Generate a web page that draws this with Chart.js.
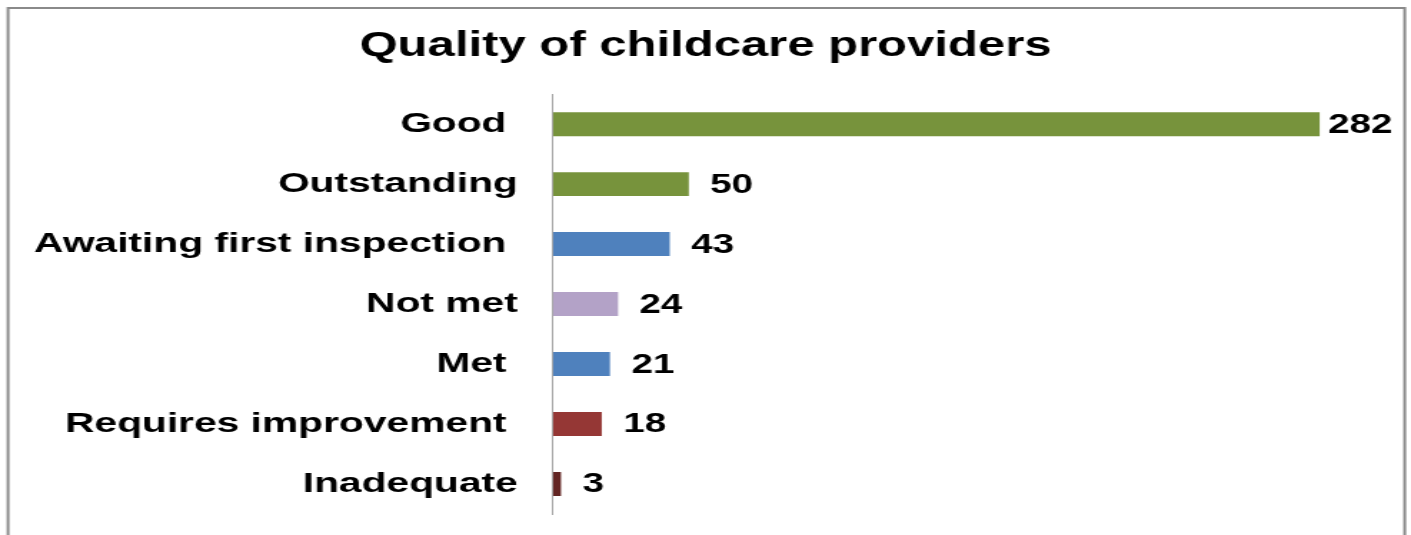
<!DOCTYPE html>
<html>
<head>
<meta charset="utf-8">
<script src="https://cdn.jsdelivr.net/npm/chart.js@4/dist/chart.umd.min.js"></script>
<style>
  html, body { margin: 0; padding: 0; background: #fff; overflow: hidden; }
  #c { display: block; }
</style>
</head>
<body>
<!-- Drawn narrower and widened by CSS, giving the wide lettering of the printed figure -->
<canvas id="c" width="987" height="535" style="width:1411px;height:535px"></canvas>
<script>
// Data
const chartTitle = 'Quality of childcare providers';
const categories = ['Good ', 'Outstanding', 'Awaiting first inspection ', 'Not met', 'Met ', 'Requires improvement ', 'Inadequate'];
const providerCounts = [282, 50, 43, 24, 21, 18, 3];
const barColours = ['#77933C', '#77933C', '#4F81BD', '#B3A2C7', '#4F81BD', '#953735', '#632523'];

const FONT = '"Liberation Sans", Arial, Helvetica, sans-serif';
const AXIS_X = 386.7;      // left edge of the plot area, in canvas units
const LABEL_LIMIT = 974;   // value labels never run past this x

// White background and the grey frame round the figure
const framePlugin = {
  id: 'frame',
  beforeDraw(chart) {
    const ctx = chart.ctx;
    ctx.save();
    ctx.fillStyle = '#ffffff';
    ctx.fillRect(0, 0, chart.width, chart.height);
    ctx.strokeStyle = '#8a8a8a';
    ctx.lineWidth = 2;
    ctx.strokeRect(5.6, 8, 982.6 - 5.6, chart.height + 20);
    ctx.restore();
  }
};

// Value labels just beyond the end of each bar
const valueLabelPlugin = {
  id: 'valueLabels',
  afterDatasetsDraw(chart) {
    const ctx = chart.ctx;
    const meta = chart.getDatasetMeta(0);
    ctx.save();
    ctx.font = 'bold 27px ' + FONT;
    ctx.fillStyle = '#000000';
    ctx.textAlign = 'left';
    ctx.textBaseline = 'middle';
    meta.data.forEach((bar, i) => {
      const text = String(providerCounts[i]);
      const w = ctx.measureText(text).width;
      let x = bar.x + 15;
      if (x + w > LABEL_LIMIT) x = LABEL_LIMIT - w;
      ctx.fillText(text, x, bar.y + 1);
    });
    ctx.restore();
  }
};

new Chart(document.getElementById('c'), {
  type: 'bar',
  data: {
    labels: categories,
    datasets: [{
      data: providerCounts,
      backgroundColor: barColours,
      borderWidth: 0,
      categoryPercentage: 1.0,
      barPercentage: 0.4
    }]
  },
  options: {
    indexAxis: 'y',
    responsive: false,
    animation: false,
    devicePixelRatio: 1,
    layout: { padding: { top: 0, bottom: 21, left: 0, right: 0 } },
    plugins: {
      legend: { display: false },
      tooltip: { enabled: false },
      title: {
        display: true,
        text: chartTitle,
        color: '#000000',
        font: { family: FONT, size: 34.3, weight: 'bold', lineHeight: 1.2 },
        padding: { top: 26, bottom: 27 }
      }
    },
    scales: {
      x: {
        min: 0,
        max: 315.6,
        display: false
      },
      y: {
        grid: { display: false, drawTicks: false },
        border: { display: true, color: '#a6a6a6', width: 1 },
        ticks: {
          color: '#000000',
          padding: 24.5,
          font: { family: FONT, size: 28.5, weight: 'bold' }
        },
        afterFit(scale) {
          scale.width = AXIS_X;
          scale.paddingTop = 0;
          scale.paddingBottom = 0;
        }
      }
    }
  },
  plugins: [framePlugin, valueLabelPlugin]
});
</script>
</body>
</html>
